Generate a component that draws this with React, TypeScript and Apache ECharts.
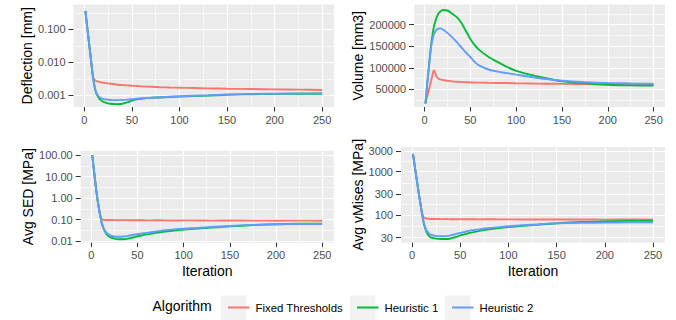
import React, { useEffect, useRef } from "react";
import * as echarts from "echarts";

// ---------------- data ----------------
const iterations = [1, 3, 5, 7, 9, 10, 11, 12, 13, 15, 17, 20, 25, 30, 35, 40, 45, 50, 55, 60, 70, 80, 90, 100, 115, 130, 150, 175, 200, 225, 250];
const algorithms = ["Fixed Thresholds", "Heuristic 1", "Heuristic 2"];
const algorithmColors = ["#F8766D", "#00BA38", "#619CFF"];

// Deflection [mm]
const deflectionFixed = [0.363, 0.115, 0.0363, 0.0115, 0.00363, 0.00316, 0.00288, 0.00275, 0.00266, 0.00257, 0.00248, 0.0024, 0.00229, 0.00219, 0.00209, 0.00204, 0.002, 0.00195, 0.00191, 0.00186, 0.00182, 0.00176, 0.00172, 0.0017, 0.00166, 0.00162, 0.00158, 0.00155, 0.00151, 0.00148, 0.00145];
const deflectionH1 = [0.363, 0.115, 0.0363, 0.0115, 0.00363, 0.0024, 0.00166, 0.00129, 0.00107, 0.000851, 0.000724, 0.000631, 0.000569, 0.000543, 0.000537, 0.000556, 0.00061, 0.000692, 0.00075, 0.000785, 0.000832, 0.000861, 0.000891, 0.000912, 0.000944, 0.000977, 0.00104, 0.00107, 0.0011, 0.00111, 0.00111];
const deflectionH2 = [0.363, 0.115, 0.0363, 0.0115, 0.00363, 0.0024, 0.00166, 0.00132, 0.00112, 0.000933, 0.000832, 0.000767, 0.000733, 0.000716, 0.000716, 0.000724, 0.000741, 0.000767, 0.000794, 0.000813, 0.000841, 0.000871, 0.000902, 0.000933, 0.000966, 0.001, 0.00106, 0.0011, 0.00112, 0.00114, 0.00115];

// Volume [mm3]
const volumeFixed = [17000, 34000, 51000, 68000, 86000, 94000, 92000, 86000, 80000, 75000, 73000, 71500, 70000, 68500, 67500, 67000, 66500, 66000, 65500, 65500, 65000, 64500, 64500, 64000, 63500, 63000, 62500, 62000, 61500, 61000, 60500];
const volumeH1 = [17000, 63000, 106000, 149000, 180000, 192000, 201000, 209000, 216000, 225000, 230000, 234000, 233000, 226000, 218000, 205000, 186000, 167000, 152000, 141000, 125000, 113000, 102000, 93000, 84000, 77000, 68500, 64000, 60500, 59000, 58500];
const volumeH2 = [17000, 63000, 106000, 145000, 168000, 176000, 181000, 185000, 188000, 191000, 191500, 189000, 181000, 171000, 160000, 148000, 136000, 125000, 113000, 105000, 96000, 91000, 87500, 84000, 79000, 74500, 70000, 66500, 64500, 63500, 63000];

// Avg SED [MPa]
const sedFixed = [100, 17.8, 3.16, 0.708, 0.224, 0.141, 0.112, 0.1, 0.0977, 0.0955, 0.0955, 0.095, 0.094, 0.093, 0.094, 0.093, 0.092, 0.093, 0.092, 0.091, 0.092, 0.091, 0.09, 0.091, 0.09, 0.089, 0.09, 0.089, 0.088, 0.089, 0.088];
const sedH1 = [100, 17.8, 3.16, 0.708, 0.224, 0.126, 0.0794, 0.055, 0.0407, 0.0269, 0.02, 0.0155, 0.0129, 0.012, 0.012, 0.0129, 0.0145, 0.0166, 0.0186, 0.0204, 0.024, 0.0275, 0.0309, 0.0339, 0.038, 0.0417, 0.0479, 0.055, 0.0603, 0.0631, 0.0646];
const sedH2 = [100, 17.8, 3.16, 0.708, 0.224, 0.126, 0.0794, 0.0562, 0.0427, 0.0295, 0.0229, 0.0186, 0.0162, 0.0158, 0.0162, 0.0174, 0.0191, 0.0209, 0.0224, 0.024, 0.0275, 0.0316, 0.0347, 0.0372, 0.0407, 0.0447, 0.0501, 0.0562, 0.0603, 0.0617, 0.0617];

// Avg vMises [MPa]
const vmisesFixed = [2570, 1259, 631, 316, 166, 126, 100, 89.1, 85.1, 83.2, 82.2, 81.3, 81, 80.5, 80.8, 80.2, 80, 80.5, 79.8, 80, 79.5, 80, 79.3, 79.6, 79, 79.4, 78.8, 79.2, 78.5, 78.9, 78.2];
const vmisesH1 = [2570, 1259, 631, 316, 166, 120, 89.1, 67.6, 55, 40.7, 33.9, 30.2, 28.5, 27.9, 27.9, 28.8, 30.9, 33.9, 36.3, 38.9, 43.2, 46.8, 50.1, 52.5, 56.2, 59.6, 64.6, 69.2, 71.6, 73.3, 74.1];
const vmisesH2 = [2570, 1259, 631, 316, 166, 120, 89.1, 69.2, 57.5, 44.7, 38.9, 34.7, 32.7, 32.4, 32.7, 33.9, 36.3, 38.9, 41.2, 43.7, 46.8, 50.1, 52.5, 55, 58.2, 61, 64.6, 66.1, 66.8, 67.6, 67.6];

// ticks
const xTicks = [0, 50, 100, 150, 200, 250];
const xMinorTicks = [25, 75, 125, 175, 225];
const deflectionTicks = [0.001, 0.01, 0.1];
const deflectionTickLabels = ["0.001", "0.010", "0.100"];
const deflectionMinor = [0.00316, 0.0316, 0.316];
const volumeTicks = [50000, 100000, 150000, 200000];
const volumeTickLabels = ["50000", "100000", "150000", "200000"];
const volumeMinor = [25000, 75000, 125000, 175000, 225000];
const sedTicks = [0.01, 0.1, 1, 10, 100];
const sedTickLabels = ["0.01", "0.10", "1.00", "10.00", "100.00"];
const sedMinor = [0.0316, 0.316, 3.16, 31.6];
const vmisesTicks = [30, 100, 300, 1000, 3000];
const vmisesTickLabels = ["30", "100", "300", "1000", "3000"];
const vmisesMinor = [54.8, 173.2, 547.7, 1732];

const FONT = "'Liberation Sans', Arial, Helvetica, sans-serif";

type Panel = {
  title: string;
  left: number; top: number; width: number; height: number;
  log: boolean; yMin: number; yMax: number;
  ticks: number[]; labels: string[]; minor: number[];
  values: number[][];
  nameGap: number; xName: boolean;
};

const panels: Panel[] = [
  { title: "Deflection [mm]", left: 73.5, top: 4.5, width: 260.5, height: 102.5, log: true, yMin: -3.355, yMax: -0.248,
    ticks: deflectionTicks, labels: deflectionTickLabels, minor: deflectionMinor,
    values: [deflectionFixed, deflectionH1, deflectionH2], nameGap: 39.5, xName: false },
  { title: "Volume [mm3]", left: 414, top: 4.5, width: 251, height: 102.5, log: false, yMin: 8900, yMax: 246900,
    ticks: volumeTicks, labels: volumeTickLabels, minor: volumeMinor,
    values: [volumeFixed, volumeH1, volumeH2], nameGap: 49.5, xName: false },
  { title: "Avg SED [MPa]", left: 80.7, top: 150.7, width: 253, height: 92, log: true, yMin: -2.079, yMax: 2.2,
    ticks: sedTicks, labels: sedTickLabels, minor: sedMinor,
    values: [sedFixed, sedH1, sedH2], nameGap: 46, xName: true },
  { title: "Avg vMises [MPa]", left: 401, top: 147, width: 264, height: 95.7, log: true, yMin: 1.362, yMax: 3.569,
    ticks: vmisesTicks, labels: vmisesTickLabels, minor: vmisesMinor,
    values: [vmisesFixed, vmisesH1, vmisesH2], nameGap: 36, xName: true },
];

const keyBoxX = [221, 350, 445];

function buildOption() {
  const grid: any[] = [];
  const xAxis: any[] = [];
  const yAxis: any[] = [];
  const series: any[] = [];
  const tickStyle = { color: "#333333", width: 1 };
  const labelStyle = { color: "#4D4D4D", fontSize: 11, fontFamily: FONT };

  panels.forEach((p, i) => {
    const tf = (v: number) => (p.log ? Math.log10(v) : v);
    const tTicks = p.ticks.map(tf);
    const tMinor = p.minor.map(tf);
    grid.push({ left: p.left, top: p.top, width: p.width, height: p.height, show: true, backgroundColor: "#EBEBEB", borderWidth: 0 });
    xAxis.push({
      gridIndex: i, type: "value", min: -11.45, max: 262.45, position: "bottom",
      axisLine: { show: false, onZero: false },
      axisTick: { show: true, customValues: xTicks, length: 4.5, lineStyle: tickStyle },
      axisLabel: { customValues: xTicks, margin: 7, ...labelStyle, formatter: (v: number) => String(v) },
      splitLine: { show: true, lineStyle: { color: "#FFFFFF", width: 1.2 } },
      name: p.xName ? "Iteration" : "", nameLocation: "middle", nameGap: 21,
      nameTextStyle: { color: "#000000", fontSize: 14, fontFamily: FONT },
    });
    xAxis.push({
      gridIndex: i, type: "value", min: -11.45, max: 262.45, position: "bottom",
      axisLine: { show: false, onZero: false },
      axisTick: { show: false, customValues: xMinorTicks },
      axisLabel: { show: false, customValues: xMinorTicks },
      splitLine: { show: true, lineStyle: { color: "#FFFFFF", width: 0.6 } },
    });
    yAxis.push({
      gridIndex: i, type: "value", min: p.yMin, max: p.yMax, position: "left",
      axisLine: { show: false, onZero: false },
      axisTick: { show: true, customValues: tTicks, length: 5, lineStyle: tickStyle },
      axisLabel: {
        customValues: tTicks, margin: 8, ...labelStyle,
        formatter: (v: number) => {
          const k = tTicks.findIndex((t) => Math.abs(t - v) < 1e-6);
          return k >= 0 ? p.labels[k] : "";
        },
      },
      splitLine: { show: true, lineStyle: { color: "#FFFFFF", width: 1.2 } },
      name: p.title, nameLocation: "middle", nameGap: p.nameGap,
      nameTextStyle: { color: "#000000", fontSize: 14, fontFamily: FONT },
    });
    yAxis.push({
      gridIndex: i, type: "value", min: p.yMin, max: p.yMax, position: "left",
      axisLine: { show: false, onZero: false },
      axisTick: { show: false, customValues: tMinor },
      axisLabel: { show: false, customValues: tMinor },
      splitLine: { show: true, lineStyle: { color: "#FFFFFF", width: 0.6 } },
    });
    p.values.forEach((vals, k) => {
      series.push({
        type: "line", name: algorithms[k],
        xAxisIndex: 2 * i, yAxisIndex: 2 * i,
        data: iterations.map((it, j) => [it, tf(vals[j])]),
        showSymbol: false, symbol: "none", smooth: 0.25,
        lineStyle: { color: algorithmColors[k], width: 1.9 },
        itemStyle: { color: algorithmColors[k] },
        z: 2 + k,
      });
    });
  });

  const graphic: any[] = [
    { type: "text", left: 152.5, top: 299, style: { text: "Algorithm", fontSize: 14, fontFamily: FONT, fill: "#000000" } },
    ...keyBoxX.map((x) => ({ type: "rect", shape: { x, y: 295.5, width: 25.5, height: 25 }, style: { fill: "#F2F2F2" }, z: 0 })),
  ];

  const legend = algorithms.map((name, k) => ({
    data: [name], left: keyBoxX[k] + 2, top: 297, orient: "horizontal",
    icon: "rect", itemWidth: 21.5, itemHeight: 2, selectedMode: false,
    textStyle: { color: "#000000", fontSize: 11.4, fontFamily: FONT, padding: [0, 0, 0, 1] },
  }));

  return {
    animation: false,
    textStyle: { fontFamily: FONT },
    grid, xAxis, yAxis, series, graphic, legend,
  };
}

export default function App() {
  const ref = useRef<HTMLDivElement>(null);
  useEffect(() => {
    if (!ref.current) return;
    const chart = echarts.init(ref.current, undefined, { renderer: "svg" });
    chart.setOption(buildOption() as any);
    return () => chart.dispose();
  }, []);
  return <div ref={ref} style={{ position: "fixed", left: 0, top: 0, width: 676, height: 320, background: "#FFFFFF" }} />;
}
